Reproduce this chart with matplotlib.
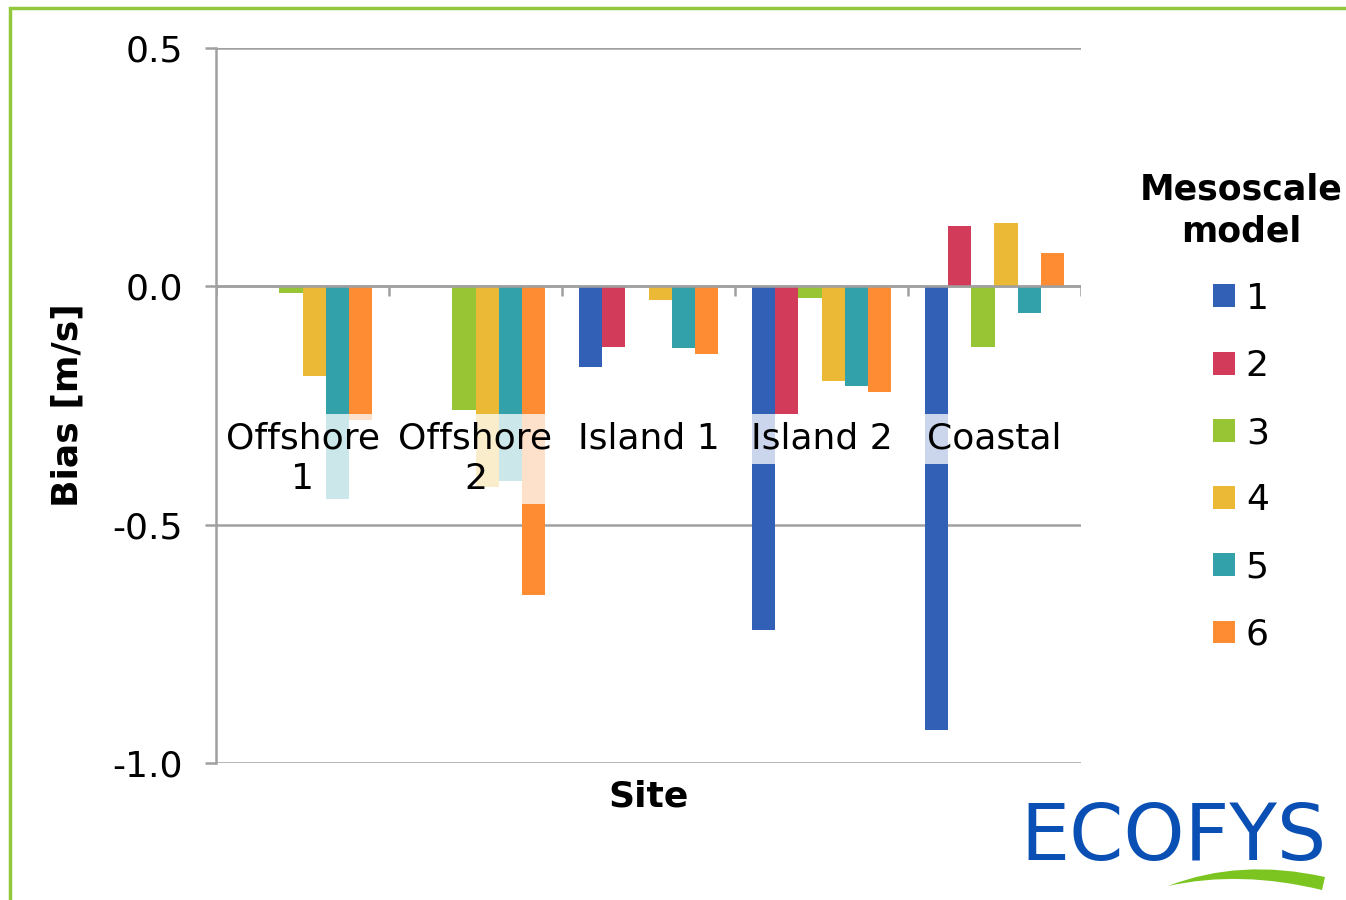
import numpy as np
import matplotlib.pyplot as plt
from matplotlib.patches import Rectangle, PathPatch
from matplotlib.path import Path

plt.rcParams['font.family'] = 'DejaVu Sans'

# data (bias in m/s), nan = no bar
sites = ['Offshore\n1', 'Offshore\n2', 'Island 1', 'Island 2', 'Coastal']
models = ['1', '2', '3', '4', '5', '6']
bias_m1 = [np.nan, np.nan, -0.169, -0.722, -0.930]
bias_m2 = [np.nan, np.nan, -0.127, -0.267, 0.126]
bias_m3 = [-0.013, -0.259, np.nan, -0.025, -0.127]
bias_m4 = [-0.188, -0.421, -0.029, -0.199, 0.132]
bias_m5 = [-0.447, -0.409, -0.130, -0.210, -0.055]
bias_m6 = [-0.281, -0.647, -0.142, -0.221, 0.069]
series = [bias_m1, bias_m2, bias_m3, bias_m4, bias_m5, bias_m6]

colors = ['#3360B7', '#D23C5A', '#98C534', '#EBB935', '#33A1AA', '#FD8C33']
grey = '#a0a0a0'
fs = 26

fig = plt.figure(figsize=(13.46, 9), dpi=100)
ax = fig.add_axes([216 / 1346, 1 - 763 / 900, 865 / 1346, 715 / 900])

x = np.arange(len(sites))
w = 1 / 7.5   # excel style gap width 150%
for i, vals in enumerate(series):
    ax.bar(x + (i - 2.5) * w, vals, width=w, color=colors[i], label=models[i], zorder=2)

ax.set_xlim(-0.5, len(sites) - 0.5)
ax.set_ylim(-1.0, 0.5)
ax.set_yticks([-1.0, -0.5, 0.0, 0.5])
ax.set_yticklabels(['-1.0', '-0.5', '0.0', '0.5'])
ax.set_xticks([])
ax.yaxis.grid(True, color=grey, lw=1.8, zorder=0)
ax.set_axisbelow(True)
for s in ['top', 'right', 'bottom']:
    ax.spines[s].set_visible(False)
ax.spines['left'].set_color(grey)
ax.spines['left'].set_linewidth(1.8)
ax.tick_params(axis='y', length=8, width=1.8, color=grey, labelsize=fs, pad=16)

# zero line with category separators
ax.axhline(0, color=grey, lw=1.8, zorder=3)
ax.vlines(np.arange(-0.5, len(sites)), 0, -0.02, color=grey, lw=1.8, zorder=3)

# category labels sit inside the plot, on a half-transparent white box
for xi, name in zip(x, sites):
    ax.text(xi, -0.284, name, ha='center', va='top', fontsize=fs,
            multialignment='center', linespacing=1.25, zorder=4,
            bbox=dict(boxstyle='square,pad=0.22', fc='white', ec='none', alpha=0.75))

ax.set_ylabel('Bias [m/s]', fontsize=fs, fontweight='bold', labelpad=20)
ax.set_xlabel('Site', fontsize=fs, fontweight='bold', labelpad=12)

leg = ax.legend(title='Mesoscale\nmodel', frameon=False, fontsize=fs,
                title_fontproperties={'weight': 'bold', 'size': 25},
                handlelength=0.6, handleheight=0.6, handletextpad=0.3,
                labelspacing=0.92, loc='center', borderpad=0.2,
                bbox_to_anchor=(1241 / 1346, 1 - 412 / 900),
                bbox_transform=fig.transFigure)
leg.get_title().set_multialignment('center')
leg.get_title().set_linespacing(1.3)

# green frame (top and left edges visible)
fig.add_artist(Rectangle((10 / 1346, -0.1), 1.2, 1.1 - 8 / 900, transform=fig.transFigure,
                         fill=False, ec='#92C83E', lw=2.5))

# logo
fig.text(1020 / 1346, 1 - 860 / 900, 'ECOFYS', fontsize=56, color='#0A50B4',
         ha='left', va='baseline')
pts = [(1168, 886), (1240, 858), (1325, 877), (1322, 890), (1240, 870), (1168, 886), (1168, 886)]
codes = [Path.MOVETO, Path.CURVE3, Path.CURVE3, Path.LINETO, Path.CURVE3, Path.CURVE3, Path.CLOSEPOLY]
swoosh = Path([(px / 1346, 1 - py / 900) for px, py in pts], codes)
fig.add_artist(PathPatch(swoosh, transform=fig.transFigure, fc='#7CC520', ec='none'))

fig.savefig('out.png', dpi=100)
